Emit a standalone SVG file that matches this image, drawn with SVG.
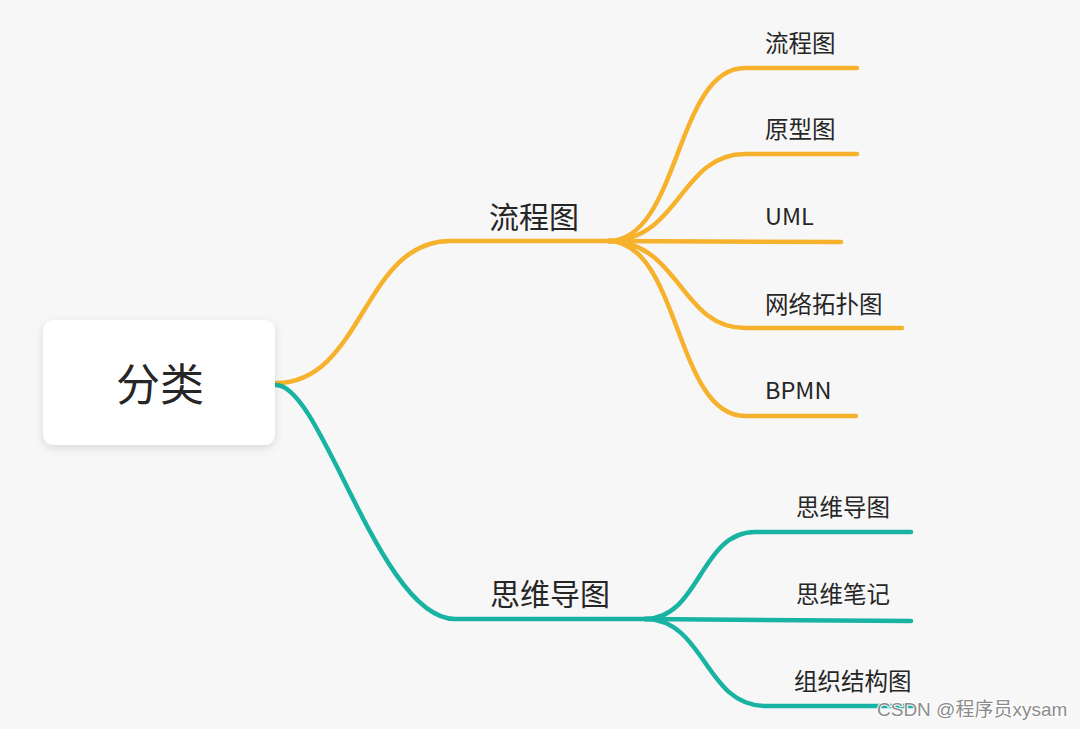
<svg xmlns="http://www.w3.org/2000/svg" width="1080" height="729" viewBox="0 0 1080 729">
  <defs>
    <filter id="shadow" x="-20%" y="-20%" width="140%" height="150%">
      <feDropShadow dx="0" dy="3" stdDeviation="4" flood-color="#000" flood-opacity="0.12"/>
    </filter>
  </defs>
  <style>
    .bg { fill: #f7f7f7; }
    .root { fill: #ffffff; }
    .txt { font-family: "Noto Sans CJK SC", "Noto Sans", "Liberation Sans", sans-serif; fill: #262626; }
    .rootTxt { font-size: 44px; text-anchor: middle; }
    .l1 { font-size: 30px; }
    .l2 { font-size: 23.5px; }
    .orange { fill: none; stroke: #f6b22c; stroke-width: 4.5; stroke-linecap: round; }
    .teal { fill: none; stroke: #19b3a3; stroke-width: 4.5; stroke-linecap: round; }
    .wm { font-family: "Liberation Sans", "Noto Sans CJK SC", sans-serif; font-size: 19px; fill: #8c8c8c; stroke: #ffffff; stroke-width: 2; paint-order: stroke; }
  </style>
  <rect class="bg" x="0" y="0" width="1080" height="729"/>

  <g id="connectors">
    <path class="orange" d="M276,383 C363,383 363,241 450,241 L612,241"/>
    <path class="teal" d="M276,385 C322,385 380,619 455,619 L648,619"/>
    <path class="orange" d="M608,241 C680,241 675,68 745,68 L857,68"/>
    <path class="orange" d="M608,241 C680,241 680,154 745,154 L857,154"/>
    <path class="orange" d="M608,241 L841,242"/>
    <path class="orange" d="M608,241 C680,241 680,328 745,328 L902,328"/>
    <path class="orange" d="M608,241 C680,241 675,416 745,416 L856,416"/>
    <path class="teal" d="M645,619 C700,619 700,532 755,532 L911,532"/>
    <path class="teal" d="M645,619 L911,621"/>
    <path class="teal" d="M645,619 C705,619 705,706 765,706 L913,706"/>
  </g>

  <g id="node-root">
    <rect class="root" x="43" y="320" width="232" height="125" rx="11" ry="11" filter="url(#shadow)"/>
    <text class="txt rootTxt" x="160" y="401">分类</text>
  </g>

  <g id="node-liuchengtu">
    <text class="txt l1" x="489" y="228">流程图</text>
  </g>
  <g id="node-siweidaotu">
    <text class="txt l1" x="490" y="605">思维导图</text>
  </g>

  <g id="node-c1">
    <text class="txt l2" x="765" y="52">流程图</text>
  </g>
  <g id="node-c2">
    <text class="txt l2" x="765" y="138">原型图</text>
  </g>
  <g id="node-c3">
    <text class="txt l2" x="765" y="225">UML</text>
  </g>
  <g id="node-c4">
    <text class="txt l2" x="765" y="313">网络拓扑图</text>
  </g>
  <g id="node-c5">
    <text class="txt l2" x="765" y="399">BPMN</text>
  </g>

  <g id="node-t1">
    <text class="txt l2" x="796" y="516">思维导图</text>
  </g>
  <g id="node-t2">
    <text class="txt l2" x="796" y="603">思维笔记</text>
  </g>
  <g id="node-t3">
    <text class="txt l2" x="794" y="690">组织结构图</text>
  </g>

  <text class="wm" x="877" y="716">CSDN @程序员xysam</text>
</svg>
